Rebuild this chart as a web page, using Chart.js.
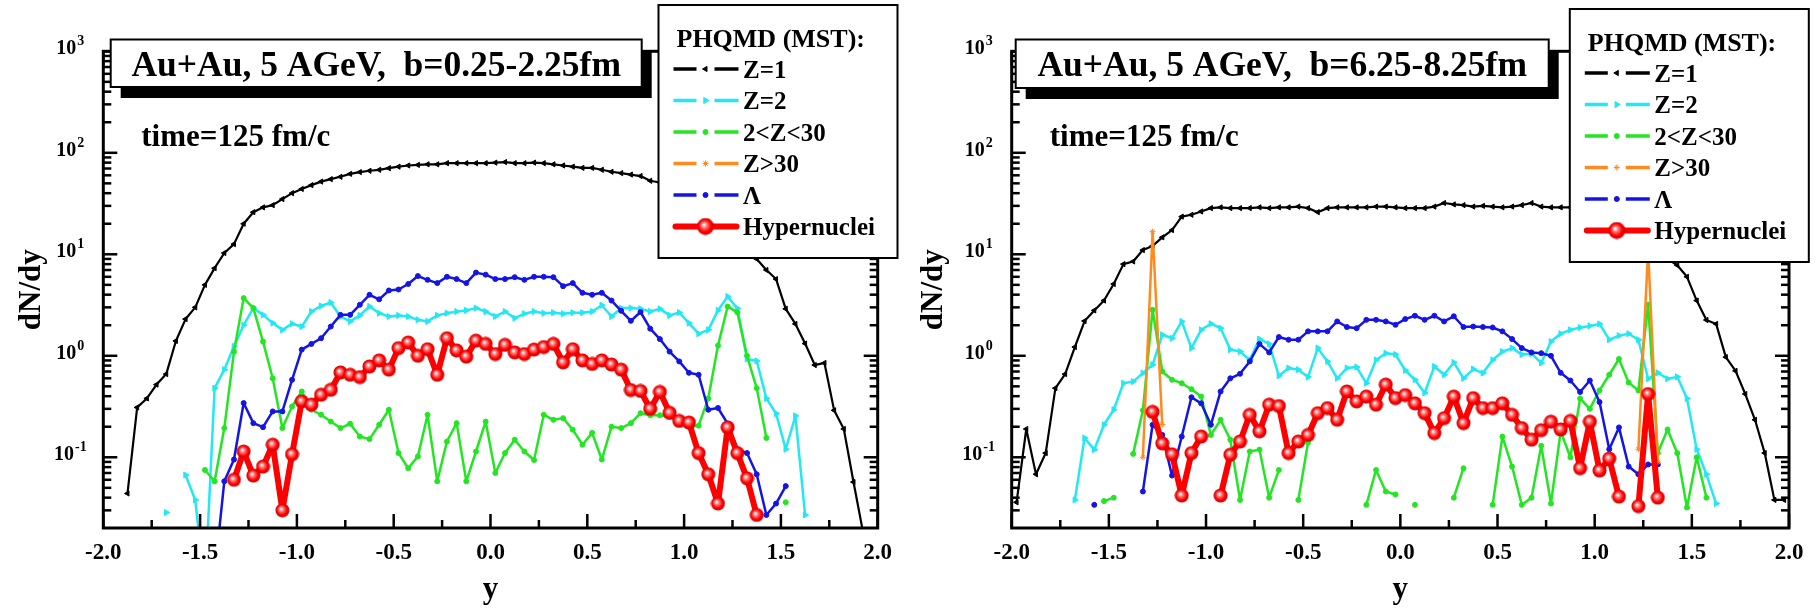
<!DOCTYPE html>
<html>
<head>
<meta charset="utf-8">
<script src="https://cdn.jsdelivr.net/npm/chart.js@4.4.0/dist/chart.umd.min.js"></script>
<style>
  html, body { margin: 0; padding: 0; background: #fff; }
  #wrap { position: relative; width: 1816px; height: 610px; }
  canvas { position: absolute; top: 0; }
  #left { left: 0; }
  #right { left: 908px; }
</style>
</head>
<body>
<div id="wrap">
  <canvas id="left" width="908" height="610"></canvas>
  <canvas id="right" width="908" height="610"></canvas>
</div>
<script>
const SERIF = '"Liberation Serif", "Times New Roman", Times, serif';
Chart.defaults.font.family = SERIF;
Chart.defaults.color = '#000';

// rapidity bins (bin centres)
const leftBins = [-1.875,-1.825,-1.775,-1.725,-1.675,-1.625,-1.575,-1.525,-1.475,-1.425,
  -1.375,-1.325,-1.275,-1.225,-1.175,-1.125,-1.075,-1.025,-0.975,-0.925,
  -0.875,-0.825,-0.775,-0.725,-0.675,-0.625,-0.575,-0.525,-0.475,-0.425,
  -0.375,-0.325,-0.275,-0.225,-0.175,-0.125,-0.075,-0.025,0.025,0.075,
  0.125,0.175,0.225,0.275,0.325,0.375,0.425,0.475,0.525,0.575,
  0.625,0.675,0.725,0.775,0.825,0.875,0.925,0.975,1.025,1.075,
  1.125,1.175,1.225,1.275,1.325,1.375,1.425,1.475,1.525,1.575,
  1.625,1.675,1.725,1.775,1.825,1.875,1.925];
const rightBins = [-1.975,-1.925,-1.875,-1.825,-1.775,-1.725,-1.675,-1.625,-1.575,-1.525,
  -1.475,-1.425,-1.375,-1.325,-1.275,-1.225,-1.175,-1.125,-1.075,-1.025,
  -0.975,-0.925,-0.875,-0.825,-0.775,-0.725,-0.675,-0.625,-0.575,-0.525,
  -0.475,-0.425,-0.375,-0.325,-0.275,-0.225,-0.175,-0.125,-0.075,-0.025,
  0.025,0.075,0.125,0.175,0.225,0.275,0.325,0.375,0.425,0.475,
  0.525,0.575,0.625,0.675,0.725,0.775,0.825,0.875,0.925,0.975,
  1.025,1.075,1.125,1.175,1.225,1.275,1.325,1.375,1.425,1.475,
  1.525,1.575,1.625,1.675,1.725,1.775,1.825,1.875,1.925,1.975];

// left panel, b=0.25-2.25 fm
const leftZ1 = [0.044,0.31,0.38,0.52,0.66,1.4,2.3,3.0,5.0,7.3,
  10.3,12.6,20,26,29,30.5,35,40,44,48,
  52,55,58,62,64.5,66.5,68,70.5,73,75,
  76,77,77,79,79,79,79,79,80,81,
  79,79,80,79,77,75,73,71,71,68,
  65,63,61,59,53,51,48,44,40,35,
  31,28,24,19,13,9,7,5.7,2.9,2.06,
  1.32,0.81,0.85,0.29,0.19,0.057,0.018];
const leftZ2 = [0.0286,null,0.067,0.038,0.005,0.48,0.73,1.24,2.0,2.95,
  2.53,2.1,1.8,2.07,1.94,2.73,3.1,3.35,2.44,2.18,
  2.5,3.06,2.63,2.44,2.5,2.44,2.26,2.18,2.5,2.63,
  2.73,2.8,2.95,2.73,2.44,2.73,2.35,2.6,2.73,2.63,
  2.66,2.6,2.66,2.66,2.73,3.15,2.44,2.95,2.95,2.9,
  2.73,2.9,2.5,2.67,2.1,1.65,1.8,2.8,3.83,2.93,
  0.93,0.89,0.38,0.27,0.12,0.256,0.027];
const leftZ3 = [0.075,0.058,0.194,1.1,3.7,2.95,1.38,0.6,0.194,0.317,
  0.445,0.294,0.262,0.225,0.194,0.214,0.16,0.151,0.209,0.294,
  0.11,0.078,0.102,0.262,0.058,0.143,0.217,0.058,0.114,0.225,
  0.07,0.11,0.149,0.114,0.094,0.262,0.234,0.243,0.187,0.133,
  0.174,0.095,0.2,0.194,0.217,0.272,0.26,0.26,0.25,0.22,
  0.2,0.205,0.38,1.26,3.06,2.68,1.0,0.48,0.155,null,
  0.036];
const leftLam = [0.007,0.058,0.095,0.342,0.217,0.198,0.283,0.283,0.58,1.15,
  1.31,1.49,1.94,2.53,2.53,3.18,3.99,3.6,4.4,4.5,
  5.1,6.1,5.6,5.2,6.0,5.7,5.2,6.6,6.3,5.7,
  5.7,5.95,5.6,6.0,6.0,5.95,4.85,5.2,4.17,3.99,
  4.17,3.5,2.77,2.21,2.7,1.85,1.46,1.1,0.88,0.68,
  0.65,0.294,0.306,0.215,0.12,0.11,0.068,0.027,0.035,0.052];
const leftHyp = [0.06,0.114,0.066,0.081,0.133,0.030,0.107,0.355,0.33,0.413,
  0.462,0.685,0.65,0.617,0.785,0.9,0.73,1.19,1.35,1.0,
  1.16,0.65,1.49,1.13,0.98,1.41,1.31,1.04,1.28,1.08,
  1.04,1.15,1.22,1.31,0.86,1.16,0.9,0.83,0.9,0.82,
  0.73,0.46,0.45,0.3,0.44,0.274,0.228,0.22,0.11,0.068,
  0.035,0.197,0.11,0.062,0.027];

// right panel, b=6.25-8.25 fm
const rightZ1 = [0.036,0.19,0.068,0.11,0.48,0.66,1.22,2.2,2.8,3.5,
  5.1,8.0,8.5,11,12.1,14.7,17.3,23.5,24.5,26.4,
  28.5,29,28.5,28.5,28.5,29,28.5,29,29,29.5,
  28.5,26,28.5,29,29,29,29,29.5,29.5,29,
  28.5,28.5,28.5,29.5,32,31,30.5,29.5,30,29.5,
  29,29.5,30.5,32,29.5,29,29,29,28.5,28,
  26,24.5,23,17.5,15,12.5,11,9,7.8,6.0,
  3.5,2.25,2.06,0.97,0.71,0.42,0.234,0.11,0.038,0.038];
const rightZ2 = [0.038,0.155,0.119,0.209,0.294,0.537,0.557,0.675,0.815,1.61,
  1.49,2.18,1.19,1.8,2.07,1.87,1.15,1.1,0.91,1.46,
  1.31,0.635,0.757,0.73,0.617,1.19,0.88,0.6,0.757,0.774,
  0.537,0.91,1.06,1.03,0.72,0.58,0.43,0.785,0.65,0.86,
  0.6,0.74,0.675,0.91,1.1,1.19,1.03,1.05,0.85,1.38,
  1.65,1.8,1.9,1.97,2.06,1.44,1.58,1.65,1.44,0.594,
  0.68,0.594,0.62,0.38,0.12,0.068,0.035];
const rightZ3 = [0.037,0.040,null,0.108,0.29,2.84,0.70,0.58,0.537,0.468,
  0.396,0.166,0.234,0.149,0.038,0.114,0.119,0.040,0.075,null,
  0.038,0.14,null,null,null,null,null,0.034,0.075,0.046,
  0.043,null,0.034,null,null,null,0.040,0.078,null,null,
  0.034,0.16,0.081,0.034,0.040,0.13,0.035,0.18,0.10,0.38,
  0.30,0.456,0.65,0.93,0.544,0.456,3.2,0.11,0.188,0.11,
  0.032,0.10,0.04];
const rightZ30x = [-1.325,-1.275,-1.225,0,1.225,1.275,1.325];
const rightZ30 = [0.10,16.7,0.21,null,0.12,11,0.09];
const rightLam = [0.034,null,null,null,null,0.046,0.209,0.166,0.066,0.16,
  0.39,0.34,0.209,0.445,0.6,0.665,0.88,1.31,1.08,1.53,
  1.44,1.44,1.74,1.74,1.74,2.18,1.92,1.87,2.26,2.26,
  2.18,2.02,2.3,2.48,2.26,2.48,2.18,2.45,1.92,1.94,
  1.92,1.9,1.74,1.46,1.19,1.08,1.06,1.0,0.68,0.57,
  0.44,0.57,0.35,0.12,0.197,0.081,0.068,0.085,0.085];
const rightHyp = [0.28,0.137,0.107,0.042,0.11,0.16,null,0.042,0.106,0.143,
  0.262,0.18,0.33,0.32,0.11,0.143,0.166,0.272,0.305,0.234,
  0.445,0.355,0.396,0.33,0.52,0.383,0.41,0.34,0.272,0.173,
  0.243,0.396,0.217,0.383,0.305,0.305,0.34,0.262,0.194,0.149,
  0.185,0.224,0.188,0.228,0.078,0.224,0.074,0.097,0.041,null,
  0.033,0.42,0.04];

const xMajorTicks = [-2, -1.5, -1, -0.5, 0, 0.5, 1, 1.5, 2];
const xMinorTicks = [-1.75, -1.25, -0.75, -0.25, 0.25, 0.75, 1.25, 1.75];
const decades = [-1, 0, 1, 2, 3];
const legendLabels = ['Z=1', 'Z=2', '2<Z<30', 'Z>30', '\u039B', 'Hypernuclei'];

// shaded red ball used as point marker
function makeBall(d) {
  const c = document.createElement('canvas');
  c.width = c.height = d;
  const g = c.getContext('2d');
  const r = d / 2;
  const grad = g.createRadialGradient(r * 0.8, r * 0.78, r * 0.05, r, r, r);
  grad.addColorStop(0, '#ffffff');
  grad.addColorStop(0.3, '#ff7070');
  grad.addColorStop(0.65, '#ff0000');
  grad.addColorStop(1, '#c80000');
  g.fillStyle = grad;
  g.beginPath();
  g.arc(r, r, r - 0.5, 0, Math.PI * 2);
  g.fill();
  return c;
}
const ball = makeBall(15);
const ballBig = makeBall(18);

const styles = {
  z1:  { color: '#000000', width: 2.2, pointStyle: 'triangle', rotation: -90, radius: 3,   order: 6 },
  z2:  { color: '#22e8f4', width: 2.5, pointStyle: 'triangle', rotation: 90,  radius: 3.5, order: 5 },
  z3:  { color: '#22e622', width: 2.5, pointStyle: 'circle',   rotation: 0,   radius: 2.5, order: 4 },
  z30: { color: '#ff8a1e', width: 2.5, pointStyle: 'star',     rotation: 0,   radius: 3,   order: 1 },
  lam: { color: '#1414e6', width: 2.5, pointStyle: 'circle',   rotation: 0,   radius: 2.5, order: 3 },
  hyp: { color: '#ff0000', width: 6,   pointStyle: ball,       rotation: 0,   radius: 7.5, order: 0 }
};
const legendOrder = ['z1', 'z2', 'z3', 'z30', 'lam', 'hyp'];

function seg(ctx, x0, y0, x1, y1) {
  ctx.beginPath(); ctx.moveTo(x0, y0); ctx.lineTo(x1, y1); ctx.stroke();
}

const decor = {
  id: 'decor',
  afterDatasetsDraw(chart, args, o) {
    const { ctx, chartArea: a } = chart;
    const xs = chart.scales.x, ys = chart.scales.y;
    ctx.save();
    ctx.strokeStyle = '#000';
    ctx.fillStyle = '#000';

    // inward ticks on all four sides
    ctx.lineWidth = 2.5;
    xMajorTicks.forEach(v => {
      const p = xs.getPixelForValue(v);
      seg(ctx, p, a.bottom, p, a.bottom - 14);
      seg(ctx, p, a.top, p, a.top + 14);
    });
    xMinorTicks.forEach(v => {
      const p = xs.getPixelForValue(v);
      seg(ctx, p, a.bottom, p, a.bottom - 8);
      seg(ctx, p, a.top, p, a.top + 8);
    });
    for (let e = -2; e <= 3; e++) {
      for (let m = 1; m <= 9; m++) {
        const v = m * Math.pow(10, e);
        if (v < ys.min || v > ys.max * 1.0001) continue;
        const p = ys.getPixelForValue(v);
        const L = m === 1 ? 14 : 8;
        seg(ctx, a.left, p, a.left + L, p);
        seg(ctx, a.right, p, a.right - L, p);
      }
    }
    ctx.lineWidth = 3;
    ctx.strokeRect(a.left, a.top, a.right - a.left, a.bottom - a.top);

    // 10^n labels
    ctx.textAlign = 'left';
    ctx.textBaseline = 'alphabetic';
    decades.forEach(e => {
      const p = ys.getPixelForValue(Math.pow(10, e));
      const sup = String(e);
      ctx.font = `bold 20px ${SERIF}`;
      const w1 = ctx.measureText('10').width;
      ctx.font = `bold 14px ${SERIF}`;
      const w2 = ctx.measureText(sup).width;
      const x0 = a.left - 33 - (w1 + w2 + 1) / 2;
      ctx.font = `bold 20px ${SERIF}`;
      ctx.fillText('10', x0, p + 3);
      ctx.font = `bold 14px ${SERIF}`;
      ctx.fillText(sup, x0 + w1 + 1, p - 6);
    });

    // title box with shadow
    const bx = a.left + o.box.dx, by = o.box.y, bw = o.box.w, bh = o.box.h;
    ctx.fillStyle = '#000';
    ctx.fillRect(bx + 10, by + 11, bw, bh);
    ctx.fillStyle = '#fff';
    ctx.fillRect(bx, by, bw, bh);
    ctx.lineWidth = 2;
    ctx.strokeRect(bx, by, bw, bh);
    ctx.fillStyle = '#000';
    ctx.font = `bold 35.5px ${SERIF}`;
    ctx.textAlign = 'center';
    ctx.fillText(o.title, bx + bw / 2, by + 36.5);

    ctx.textAlign = 'left';
    ctx.font = `bold 31px ${SERIF}`;
    ctx.fillText(o.time, a.left + 38, 146);

    // legend
    const lx = a.right - 219.2, ly = o.legendY, lw = 239, lh = 253;
    ctx.fillStyle = '#fff';
    ctx.fillRect(lx, ly, lw, lh);
    ctx.lineWidth = 2;
    ctx.strokeRect(lx, ly, lw, lh);
    ctx.fillStyle = '#000';
    ctx.font = `bold 26px ${SERIF}`;
    ctx.fillText('PHQMD (MST):', lx + 18, ly + 42);
    legendOrder.forEach((k, i) => {
      const st = styles[k];
      const ry = ly + 64 + 31.5 * i;
      const x0 = lx + 15, x1 = lx + 80, mid = lx + 47;
      ctx.strokeStyle = st.color;
      ctx.fillStyle = st.color;
      if (k === 'hyp') {
        ctx.lineWidth = 6;
        ctx.lineCap = 'round';
        seg(ctx, x0 + 2, ry, x1 - 2, ry);
        ctx.lineCap = 'butt';
        ctx.drawImage(ballBig, mid - 9, ry - 9);
      } else {
        ctx.lineWidth = 3.5;
        seg(ctx, x0, ry, mid - 9, ry);
        seg(ctx, mid + 9, ry, x1, ry);
        ctx.lineWidth = 1;
        Chart.helpers.drawPoint(ctx, { pointStyle: st.pointStyle, rotation: st.rotation,
          radius: st.radius, borderWidth: 1 }, mid, ry);
      }
      ctx.fillStyle = '#000';
      ctx.font = `bold 25px ${SERIF}`;
      ctx.fillText(legendLabels[i], lx + 84.5, ry + 8.5);
    });
    ctx.restore();
  }
};

function buildSets(bins, list) {
  return list.map(s => {
    const st = styles[s.key];
    const xs = s.xs || bins.slice(s.start, s.start + s.values.length);
    return {
      data: s.values.map((v, i) => ({ x: xs[i], y: v })),
      borderColor: st.color,
      backgroundColor: st.color,
      borderWidth: st.width,
      borderJoinStyle: 'round',
      pointStyle: st.pointStyle,
      pointRotation: st.rotation,
      pointRadius: st.radius,
      pointBorderWidth: 1,
      pointBorderColor: st.color,
      pointBackgroundColor: st.color,
      spanGaps: false,
      tension: 0,
      clip: 0,
      order: st.order
    };
  });
}

function makeChart(id, bins, list, deco) {
  new Chart(document.getElementById(id), {
    type: 'line',
    data: { datasets: buildSets(bins, list) },
    plugins: [decor],
    options: {
      responsive: false,
      animation: false,
      devicePixelRatio: 1,
      layout: { padding: { left: 0, top: 51.3, right: 908 - deco.right, bottom: 0 } },
      plugins: { legend: { display: false }, tooltip: { enabled: false }, decor: deco },
      scales: {
        x: {
          type: 'linear', min: -2, max: 2,
          afterFit: s => { s.height = 82; },
          grid: { display: false, drawTicks: false },
          border: { display: false },
          ticks: { stepSize: 0.5, autoSkip: false, maxRotation: 0, padding: 11,
            font: { size: 23, weight: 'bold' }, color: '#000',
            callback: v => Number(v).toFixed(1) },
          title: { display: true, text: 'y', color: '#000',
            font: { size: 31, weight: 'bold' }, padding: { top: 0, bottom: 1 } }
        },
        y: {
          type: 'logarithmic', min: 0.0201, max: 1000,
          afterFit: s => { s.width = deco.left; },
          grid: { display: false, drawTicks: false },
          border: { display: false },
          ticks: { display: false },
          title: { display: true, text: 'dN/dy', color: '#000',
            font: { size: 31, weight: 'bold' }, padding: { top: deco.titlePad, bottom: 0 } }
        }
      }
    }
  });
}

makeChart('left', leftBins, [
  { key: 'z1', start: 0, values: leftZ1 },
  { key: 'z2', start: 4, values: leftZ2 },
  { key: 'z3', start: 8, values: leftZ3 },
  { key: 'lam', start: 9, values: leftLam },
  { key: 'hyp', start: 11, values: leftHyp }
], {
  left: 103.3, right: 877.7, titlePad: 13, legendY: 5,
  box: { dx: 7.4, y: 39.5, w: 531, h: 47.5 },
  title: 'Au+Au, 5 AGeV,  b=0.25-2.25fm', time: 'time=125 fm/c'
});

makeChart('right', rightBins, [
  { key: 'z1', start: 0, values: rightZ1 },
  { key: 'z2', start: 6, values: rightZ2 },
  { key: 'z3', start: 9, values: rightZ3 },
  { key: 'z30', xs: rightZ30x, values: rightZ30 },
  { key: 'lam', start: 8, values: rightLam },
  { key: 'hyp', start: 14, values: rightHyp }
], {
  left: 103.7, right: 881, titlePad: 7, legendY: 9,
  box: { dx: 4, y: 39.5, w: 533, h: 48.5 },
  title: 'Au+Au, 5 AGeV,  b=6.25-8.25fm', time: 'time=125 fm/c'
});
</script>
</body>
</html>
